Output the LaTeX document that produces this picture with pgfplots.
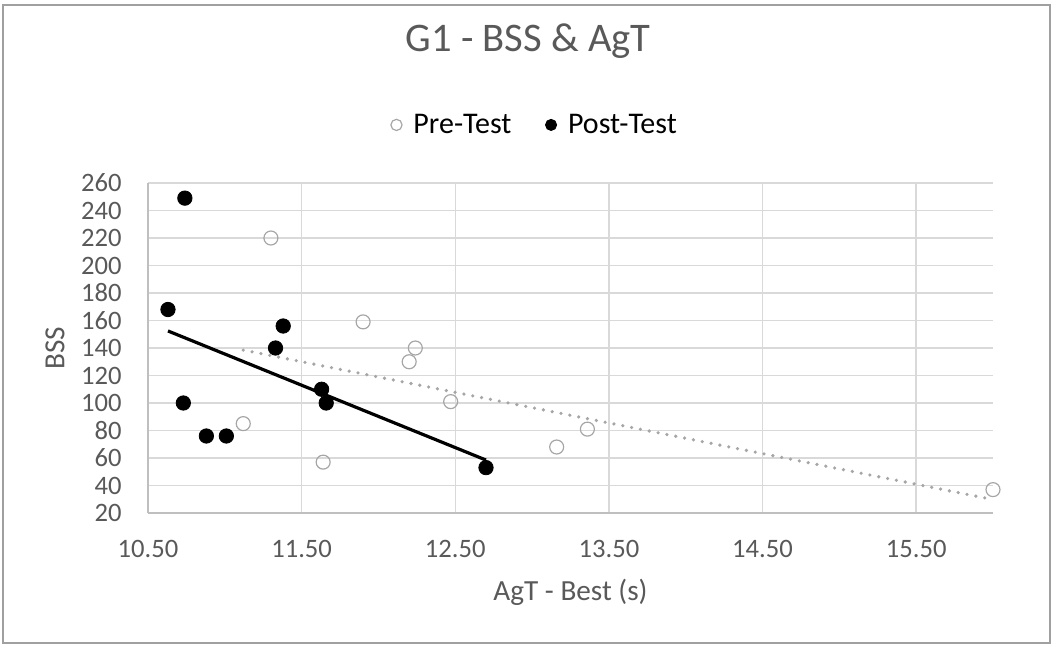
\documentclass[border=0pt]{standalone}
\usepackage{fontspec}
\setmainfont{Carlito}
\usepackage{pgfplots}
\pgfplotsset{compat=1.18}
\definecolor{txtgray}{HTML}{595959}
\definecolor{gridgray}{HTML}{D9D9D9}
\definecolor{axgray}{HTML}{BFBFBF}
\definecolor{pregray}{HTML}{A6A6A6}
\definecolor{framegray}{HTML}{A0A0A0}

\begin{document}
\begin{tikzpicture}
\useasboundingbox (-74pt,-65.5pt) rectangle (452.5pt,256.5pt);
\draw[framegray, line width=0.8pt] (-72.5pt,-65pt) rectangle (451pt,254pt);
\begin{axis}[
  at={(0pt,0pt)}, anchor=south west,
  scale only axis, width=422.5pt, height=165pt,
  xmin=10.5, xmax=16, ymin=20, ymax=260,
  xtick={10.5,11.5,...,15.5},
  xticklabels={10.50,11.50,12.50,13.50,14.50,15.50},
  ytick={20,40,...,260},
  grid=major, major grid style={gridgray, line width=0.7pt},
  axis x line*=bottom, axis y line*=left,
  axis line style={axgray, line width=0.9pt, -},
  major tick length=0pt,
  ticklabel style={font=\fontsize{13.3}{15}\selectfont, text=txtgray},
  xticklabel style={yshift=-10pt},
  yticklabel style={xshift=-9.7pt},
  /pgf/number format/assume math mode=true,
  xlabel={AgT - Best (s)}, ylabel={BSS},
  label style={font=\fontsize{14.6}{17}\selectfont, text=txtgray},
  xlabel style={at={(axis description cs:0.5,-0.2394)}, anchor=center},
  ylabel style={at={(axis description cs:-0.110,0.5)}, anchor=center},
  title={G1 - BSS \& AgT},
  title style={at={(axis description cs:0.45,1.394)}, anchor=center,
    font=\fontsize{20.3}{24}\selectfont, text=txtgray},
  legend columns=2,
  legend image code/.code={\draw[#1, mark size=2.8pt] plot coordinates {(0pt,0pt)};
    \path (6.3pt,0pt);},
  legend style={at={(axis description cs:0.459,1.176)}, anchor=center,
    draw=none, fill=none, font=\fontsize{15}{18}\selectfont,
    /tikz/every even column/.append style={column sep=15pt}},
  clip=false,
]

% Pre-Test
\addplot[only marks, mark=o, mark size=3.5pt, pregray, mark options={line width=0.6pt}]
  coordinates {(11.30,220) (11.90,159) (12.24,140) (12.20,130) (12.47,101)
    (11.12,85) (11.64,57) (13.16,68) (13.36,81) (16.00,37)};
\addlegendentry{Pre-Test}

% Post-Test
\addplot[only marks, mark=*, mark size=3.6pt, black]
  coordinates {(10.63,168) (10.74,249) (11.38,156) (11.33,140) (10.73,100)
    (10.88,76) (11.01,76) (11.63,110) (11.66,100) (12.70,53)};
\addlegendentry{Post-Test}

% trend lines
\addplot[forget plot, pregray, line width=1.8pt, dash pattern=on 0pt off 4.5pt, line cap=round]
  coordinates {(11.12,138.5) (16.00,29.8)};
\addplot[forget plot, black, line width=1.6pt]
  coordinates {(10.63,152.4) (12.70,58.5)};

\end{axis}
\end{tikzpicture}
\end{document}
